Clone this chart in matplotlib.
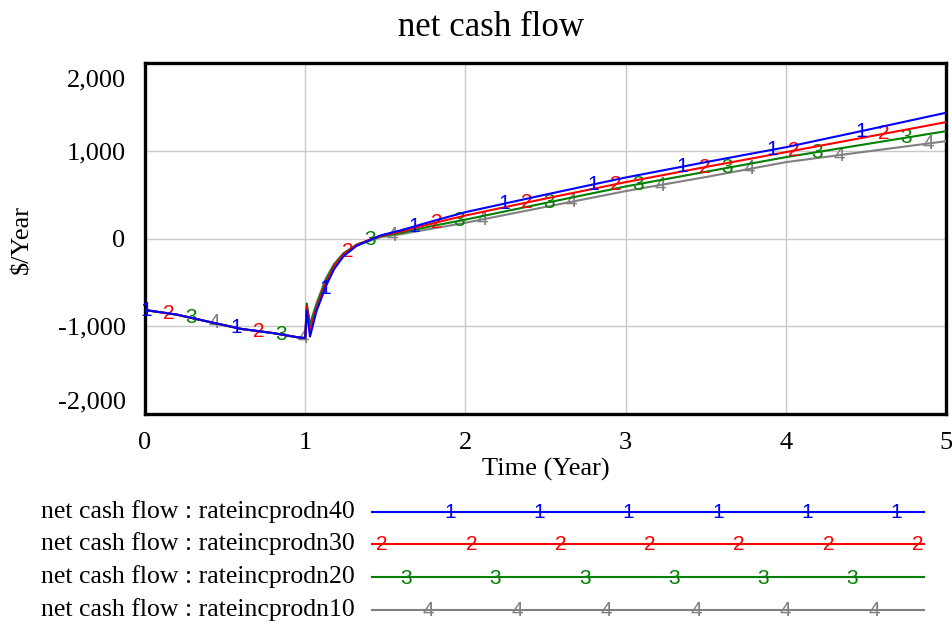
import numpy as np
import matplotlib
matplotlib.use("Agg")
import matplotlib.pyplot as plt
import matplotlib.transforms as mtransforms
from matplotlib.lines import Line2D

# Data (Time in years, net cash flow in $/Year)
time = [0, 0.2, 0.4, 0.6, 0.8, 0.95, 1.0, 1.01, 1.03, 1.07, 1.13, 1.18,
        1.24, 1.32, 1.40, 1.47, 1.6, 1.8, 2.0, 2.5, 3.0, 3.5, 4.0, 4.5, 5.0]
pre = [-815, -868, -950, -1030, -1078, -1125, -1135]
ncf_40 = pre + [-820, -1118, -830, -540, -350, -200, -85, -20, 35, 95,
                200, 300, 500, 695, 870, 1040, 1235, 1433]
ncf_30 = pre + [-770, -1050, -800, -500, -320, -180, -75, -15, 30, 80,
                175, 262, 455, 642, 815, 984, 1155, 1326]
ncf_20 = pre + [-740, -990, -760, -470, -300, -170, -70, -18, 25, 65,
                145, 215, 405, 593, 760, 927, 1075, 1223]
ncf_10 = pre + [-780, -970, -740, -450, -290, -165, -80, -30, 15, 50,
                115, 179, 360, 540, 700, 870, 990, 1109]

series = [ncf_40, ncf_30, ncf_20, ncf_10]
names = ['net cash flow : rateincprodn40', 'net cash flow : rateincprodn30',
         'net cash flow : rateincprodn20', 'net cash flow : rateincprodn10']
marks = ['1', '2', '3', '4']
colors = ['#0000ff', '#ff0000', '#008000', '#808080']

yticks = [-2000, -1000, 0, 1000, 2000]
ytick_labels = ['-2,000', '-1,000', '0', '1,000', '2,000']
xticks = [0, 1, 2, 3, 4, 5]

serif = 'Liberation Serif'
sans = 'Liberation Sans'

W, H = 952, 626
fig = plt.figure(figsize=(W / 100, H / 100), dpi=100)
ax = fig.add_axes([145 / W, 1 - 414 / H, 801 / W, 351 / H])

# draw back to front so the blue run sits on top, like the original
for i in range(3, -1, -1):
    ax.plot(time, series[i], color=colors[i], lw=1.5, zorder=3 + (3 - i))
    # number tags spaced along each line
    tx = np.arange(0.01 + 0.14 * i, 5.0, 0.5575)
    ty = np.interp(tx, time, series[i])
    for a, b in zip(tx, ty):
        ax.text(a, b, marks[i], color=colors[i], fontsize=15, family=sans,
                ha='center', va='center', zorder=3 + (3 - i))

ax.set_xlim(0, 5)
ax.set_ylim(-2000, 2000)
ax.set_xticks(xticks)
ax.set_yticks(yticks)
ax.set_yticklabels(ytick_labels)
ax.tick_params(length=0, labelsize=19, pad=13)
ax.tick_params(axis='y', pad=14)
for lab in ax.get_xticklabels() + ax.get_yticklabels():
    lab.set_family(serif)
# end labels on the y axis are nudged inside the frame
ylabs = ax.get_yticklabels()
ylabs[0].set_transform(ylabs[0].get_transform() +
                       mtransforms.ScaledTranslation(0, 14 / 100, fig.dpi_scale_trans))
ylabs[-1].set_transform(ylabs[-1].get_transform() +
                        mtransforms.ScaledTranslation(0, -15 / 100, fig.dpi_scale_trans))
ax.grid(True, color='#c8c8c8', lw=1.0)
ax.set_axisbelow(True)
for sp in ax.spines.values():
    sp.set_linewidth(2.4)
    sp.set_color('black')

fig.text(491 / W, 1 - 28 / H, 'net cash flow', fontsize=25, family=serif,
         ha='center', va='center')
fig.text(546 / W, 1 - 469 / H, 'Time (Year)', fontsize=19, family=serif,
         ha='center', va='center')
fig.text(22 / W, 1 - 240 / H, r'\$/Year', fontsize=19, family=serif,
         ha='center', va='center', rotation=90)

# legend block under the chart
lg = fig.add_axes([0, 0, 1, 1])
lg.set_xlim(0, W)
lg.set_ylim(H, 0)
lg.axis('off')
rows = [512, 544, 577, 610]
tag_start = [450, 382, 406, 428]
for i in range(4):
    y = rows[i]
    lg.text(355, y, names[i], fontsize=18.5, family=serif, ha='right',
            va='center')
    lg.add_line(Line2D([372, 924], [y, y], color=colors[i], lw=1.5))
    for px in np.arange(tag_start[i], 925, 89.3):
        lg.text(px, y + 1, marks[i], color=colors[i], fontsize=15,
                family=sans, ha='center', va='center')

fig.savefig('out.png', dpi=100)
